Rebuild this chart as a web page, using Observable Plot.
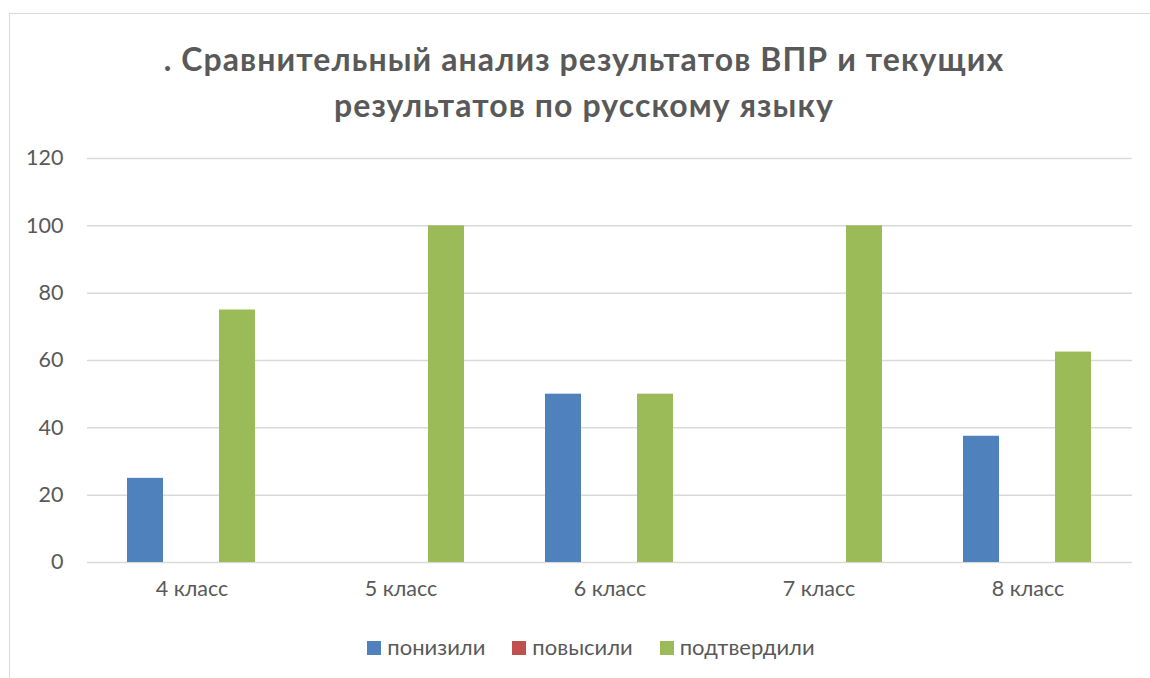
<!DOCTYPE html>
<html><head><meta charset="utf-8">
<script src="https://cdn.jsdelivr.net/npm/d3@7"></script>
<script src="https://cdn.jsdelivr.net/npm/@observablehq/plot@0.6"></script>
<style>
html,body{margin:0;padding:0;background:#fff;width:1150px;height:678px;overflow:hidden;font-family:Lato,"Open Sans",sans-serif;}
#frame{position:absolute;left:9px;top:13px;width:1200px;height:700px;border:1.5px solid #d9d9d9;box-sizing:border-box;}
#title{position:absolute;left:0;width:1168px;top:36px;text-align:center;font-weight:bold;font-size:32px;letter-spacing:1.1px;line-height:46px;color:#595959;}
#chart{position:absolute;left:0;top:140px;}
#legend{position:absolute;left:0;width:1182px;top:633px;display:flex;justify-content:center;gap:27px;font-size:22px;color:#595959;}
#legend span.sw{display:inline-block;width:14px;height:14px;margin-right:6px;vertical-align:0px;}
</style></head>
<body>
<div id="frame"></div>
<div id="title">. Сравнительный анализ результатов ВПР и текущих<br>результатов по русскому языку</div>
<div id="chart"></div>
<div id="legend"></div>
<script>
const categories = ["4 класс","5 класс","6 класс","7 класс","8 класс"];
const seriesNames = ["понизили","повысили","подтвердили"];
const seriesColors = ["#4F81BD","#C0504D","#9BBB59"];
const lowered = [25, 0, 50, 0, 37.5];
const raised = [0, 0, 0, 0, 0];
const confirmed = [75, 100, 50, 100, 62.5];
const yTicks = [0,20,40,60,80,100,120];

const seriesValues = [lowered, raised, confirmed];
const data = [];
categories.forEach((c,i)=>seriesNames.forEach((s,j)=>data.push({cat:c, series:s, value:seriesValues[j][i]})));

const chart = Plot.plot({
  width: 1150, height: 470,
  marginLeft: 86, marginRight: 18, marginTop: 18, marginBottom: 48,
  style: {fontFamily: "Lato, 'Open Sans', sans-serif", fontSize: "21.5px", color: "#595959", background: "transparent"},
  fx: {domain: categories, padding: 0, axis: "bottom", label: null, tickSize: 0, tickPadding: 18},
  x: {domain: seriesNames, paddingInner: 0.2128, paddingOuter: 0.836, axis: null},
  y: {domain: [0,120], ticks: yTicks, label: null, tickSize: 0, tickPadding: 24},
  color: {domain: seriesNames, range: seriesColors},
  marks: [
    Plot.ruleY(yTicks, {stroke: "#d9d9d9", strokeWidth: 1.5}),
    Plot.barY(data, {fx: "cat", x: "series", y: "value", fill: "series"})
  ]
});
document.getElementById("chart").appendChild(chart);

const leg = document.getElementById("legend");
seriesNames.forEach((s,i)=>{
  const d = document.createElement("div");
  d.innerHTML = `<span class="sw" style="background:${seriesColors[i]}"></span>${s}`;
  leg.appendChild(d);
});
</script>
</body></html>
